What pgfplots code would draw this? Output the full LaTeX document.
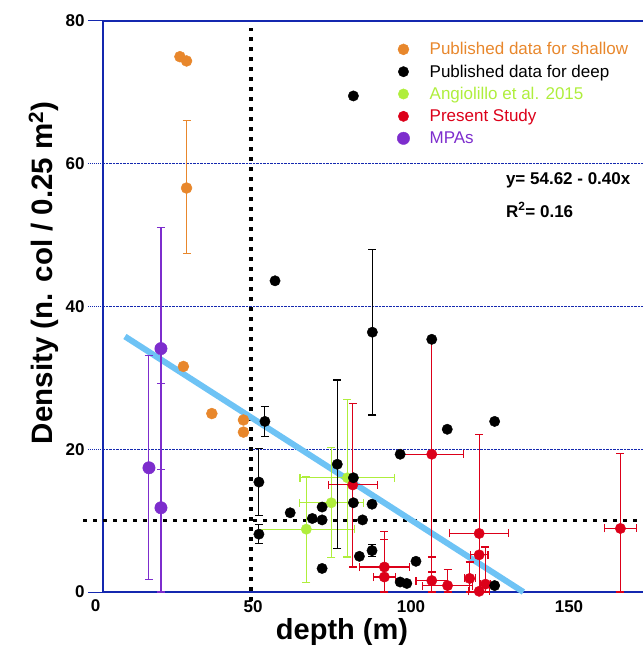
\documentclass[border=0pt]{standalone}
\usepackage{fontspec}
\setmainfont{Liberation Sans}
\usepackage{pgfplots}
\pgfplotsset{compat=1.18}
\definecolor{axblue}{RGB}{20,40,175}
\definecolor{cor}{RGB}{232,135,44}
\definecolor{cgr}{RGB}{175,238,60}
\definecolor{cred}{RGB}{220,0,25}
\definecolor{cpu}{RGB}{125,45,205}
\definecolor{clb}{RGB}{110,195,245}
\begin{document}
\begin{tikzpicture}
\path[use as bounding box] (-103pt,-71pt) rectangle (540pt,592pt);
\begin{axis}[
  at={(0pt,0pt)}, anchor=south west,
  scale only axis, width=540pt, height=571pt,
  xmin=3.16, xmax=174.05, ymin=0, ymax=80,
  clip=false,
  axis x line*=box, axis y line*=left,
  axis line style={axblue, line width=1.3pt},
  xtick={50,100,150}, ytick={0,80},
  extra y ticks={20,40,60},
  extra y tick style={grid=major, ytick style={axblue, densely dotted, line width=0.7pt},
     major grid style={axblue, densely dotted, line width=0.6pt}},
  xtick style={draw=none},
  ytick style={axblue, line width=1pt},
  tick align=outside, major tick length=15pt,
  /pgf/number format/assume math mode=true,
  ticklabel style={font=\fontsize{17}{20}\selectfont\bfseries},
  xticklabel style={xshift=2pt, yshift=10pt},
  xlabel={depth (m)},
  xlabel style={font=\fontsize{29}{34}\selectfont\bfseries, at={(axis description cs:0.4426,-0.070)}, anchor=center},
  ylabel={Density (n. col / 0.25 m\textsuperscript{2})},
  ylabel style={font=\fontsize{29.5}{34}\selectfont\bfseries, at={(axis description cs:-0.11,0.559)}, anchor=center},
  legend style={draw=none, fill=none, at={(axis description cs:0.539,0.968)}, anchor=north west,
    font=\fontsize{17}{20}\selectfont, row sep=6.5pt, nodes={inner sep=1pt},
    /tikz/every odd column/.append style={column sep=19pt}},
  legend cell align=left,
  error bars/error bar style={line width=1.1pt},
  error bars/error mark options={rotate=90, line width=1.1pt, mark size=4pt},
]
% reference lines
\draw[black, line width=3.5pt, dash pattern=on 3.5pt off 6.5pt] (axis cs:-3.1,10) -- (axis cs:174.05,10);
\draw[black, line width=3.5pt, dash pattern=on 3.5pt off 6.5pt] (axis cs:50,-1.2) -- (axis cs:50,79);
% regression line
\addplot[clb, line width=6pt, forget plot] coordinates {(10.1,35.8) (136.2,0)};

\addlegendimage{only marks, mark=*, color=cor, mark options={fill=cor, draw=cor}, mark size=5.5pt}
\addlegendentry{\textcolor{cor}{Published data for shallow}}
\addlegendimage{only marks, mark=*, color=black, mark options={fill=black, draw=black}, mark size=5.2pt}
\addlegendentry{\textcolor{black}{Published data for deep}}
\addlegendimage{only marks, mark=*, color=cgr, mark options={fill=cgr, draw=cgr}, mark size=5.2pt}
\addlegendentry{\textcolor{cgr}{Angiolillo et al. 2015}}
\addlegendimage{only marks, mark=*, color=cred, mark options={fill=cred, draw=cred}, mark size=5.2pt}
\addlegendentry{\textcolor{cred}{Present Study}}
\addlegendimage{only marks, mark=*, color=cpu, mark options={fill=cpu, draw=cpu}, mark size=6.2pt}
\addlegendentry{\textcolor{cpu}{MPAs}}

% orange: published shallow
\addplot[only marks, mark=*, color=cor, mark options={fill=cor, draw=cor}, mark size=5.5pt, forget plot,
  error bars/.cd, y dir=both, y explicit]
  table[x=x, y=y, y error plus=ep, y error minus=em] {
x y ep em
27.5 75.0 0 0
29.6 74.4 0 0
29.6 56.6 9.4 9.2
28.6 31.6 0 0
37.6 25.0 0 0
47.6 24.1 0 0
47.6 22.4 0 0
};
% purple: MPAs
\addplot[only marks, mark=*, color=cpu, mark options={fill=cpu, draw=cpu}, mark size=6.2pt, forget plot,
  error bars/.cd, y dir=both, y explicit]
  table[x=x, y=y, y error plus=ep, y error minus=em] {
x y ep em
17.7 17.4 15.7 15.7
21.5 34.1 17.0 16.9
21.5 11.8 17.4 11.8
};
% green: Angiolillo
\addplot[only marks, mark=*, color=cgr, mark options={fill=cgr, draw=cgr}, mark size=5.2pt, forget plot,
  error bars/.cd, x dir=both, x explicit, y dir=both, y explicit]
  table[x=x, y=y, x error=ex, y error plus=ep, y error minus=em] {
x y ex ep em
67.5 8.8 15.2 7.4 7.5
75.4 12.5 10.1 7.7 7.7
80.5 16.0 15.0 11.0 11.1
};
% red: present study
\addplot[only marks, mark=*, color=cred, mark options={fill=cred, draw=cred}, mark size=5.2pt, forget plot,
  error bars/.cd, x dir=both, x explicit, y dir=both, y explicit]
  table[x=x, y=y, x error=ex, y error plus=ep, y error minus=em] {
x y ex ep em
82.2 15.0 7.8 11.4 11.5
92.2 3.5 7.9 5.0 3.5
92.2 2.1 3.5 5.2 2.1
107.2 19.3 10.0 16.3 16.5
107.2 1.6 5.0 3.3 1.6
112.2 0.9 7.8 2.3 0.9
122.2 8.2 9.3 13.9 8.2
122.2 5.2 2.8 0 0
119.2 1.9 1.7 2.3 1.9
124.2 1.1 1.5 5.2 1.1
122.2 0.1 3.3 0 0.1
166.9 8.9 5.0 10.5 8.9
};
% black: published deep
\addplot[only marks, mark=*, color=black, mark options={fill=black, draw=black}, mark size=5.2pt, forget plot,
  error bars/.cd, y dir=both, y explicit]
  table[x=x, y=y, y error plus=ep, y error minus=em] {
x y ep em
82.4 69.5 0 0
57.6 43.6 0 0
88.4 36.4 11.6 11.6
107.2 35.4 0 0
127.1 23.9 0 0
112.1 22.8 0 0
97.2 19.3 0 0
54.4 23.9 2.1 2.1
52.5 15.4 4.7 4.7
52.5 8.1 1.35 1.35
62.4 11.1 0 0
69.4 10.3 0 0
72.5 11.9 0 0
72.5 10.1 0 0
72.5 3.3 0 0
77.3 17.9 11.8 11.8
82.4 16.0 0 0
82.4 12.5 0 0
88.3 12.3 0 0
85.3 10.1 0 0
84.3 5.0 0 0
88.3 5.8 0.85 0.85
102.2 4.3 0 0
97.2 1.4 0 0
99.3 1.2 0 0
127.1 0.9 0 0
};
\node[font=\fontsize{17}{20}\selectfont\bfseries, anchor=west, inner sep=0pt] at (rel axis cs:0.746,0.7215) {y= 54.62 - 0.40x};
\node[font=\fontsize{17}{20}\selectfont\bfseries, anchor=west, inner sep=0pt] at (rel axis cs:0.746,0.669) {R\textsuperscript{2}= 0.16};
\node[font=\fontsize{17}{20}\selectfont\bfseries, anchor=north, yshift=-4pt] at (axis cs:0.8,0) {0};
\end{axis}
\end{tikzpicture}
\end{document}
